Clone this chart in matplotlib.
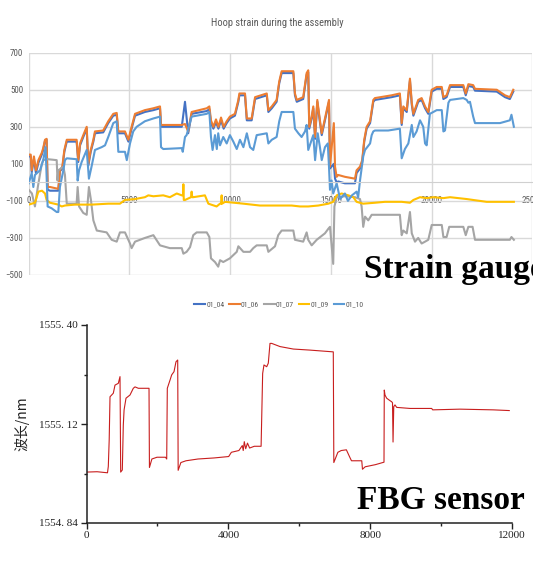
import matplotlib
matplotlib.use('Agg')
import matplotlib.pyplot as plt
from matplotlib import font_manager

# ---------------- strain gauges (top chart) ----------------
# 01_04 and 01_06 are read at the same time stamps
x06 = [0, 100, 150, 260, 360, 480, 650, 720, 810, 890,
       940, 1060, 1470, 1550, 1670, 1770, 1890, 2380, 2460, 2550,
       2710, 2880, 2960, 3080, 3210, 3290, 3700, 3950, 4200, 4370,
       4450, 4780, 4950, 5110, 5280, 5770, 6190, 6520, 6570, 7600,
       7760, 7920, 8090, 8840, 8970, 9050, 9170, 9300, 9420, 9550,
       9680, 9830, 9990, 10240, 10410, 10460, 10740, 10830, 11070, 11240,
       11820, 11900, 12070, 12310, 12440, 12560, 13140, 13220, 13310, 13630,
       13800, 13880, 13930, 14050, 14130, 14220, 14330, 14460, 14550, 14800,
       14910, 14960, 15150, 15210, 15290, 15370, 15700, 16200, 16280, 16450,
       16560, 16660, 16780, 16950, 17110, 17190, 18020, 18430, 18520, 18600,
       18770, 18930, 19020, 19100, 19340, 19510, 19680, 19840, 20010, 20260,
       20510, 20590, 20750, 20920, 21580, 21700, 21830, 22070, 22160, 23240,
       23650, 23890, 24060]
y06 = [150, 150, 65, 140, 65, 120, 160, 185, 230, 235,
       -25, -25, -35, 65, 85, 175, 230, 230, 120, 210,
       255, 300, 100, 175, 230, 275, 280, 330, 370, 375,
       275, 275, 230, 300, 370, 390, 400, 410, 310, 310,
       315, 275, 380, 400, 410, 335, 300, 340, 300, 350,
       300, 330, 355, 370, 445, 480, 480, 345, 345, 460,
       480, 390, 410, 445, 545, 600, 600, 480, 445, 460,
       590, 605, 300, 355, 410, 245, 445, 335, 265, 390,
       445, 85, 320, 85, 30, 40, 30, 20, 65, 85,
       120, 230, 300, 330, 445, 455, 470, 480, 320, 410,
       390, 560, 430, 370, 445, 455, 410, 380, 500, 515,
       515, 460, 470, 525, 525, 480, 530, 525, 505, 500,
       470, 460, 500]
y04 = [140, 140, 55, 125, 50, 105, 150, 175, 225, 230,
       -40, -45, -45, 60, 75, 165, 220, 220, 110, 200,
       245, 290, 90, 165, 220, 265, 270, 320, 360, 365,
       265, 265, 220, 290, 360, 380, 390, 400, 300, 300,
       435, 265, 370, 385, 395, 320, 290, 325, 290, 335,
       290, 320, 345, 360, 435, 470, 470, 335, 335, 450,
       470, 380, 400, 435, 535, 590, 590, 470, 435, 450,
       580, 595, 290, 345, 400, 235, 435, 325, 255, 380,
       435, 75, 100, 20, 0, 5, -5, -5, 50, 75,
       110, 220, 290, 320, 435, 445, 460, 470, 310, 400,
       380, 550, 420, 360, 435, 445, 400, 370, 490, 505,
       505, 450, 460, 515, 515, 470, 520, 515, 495, 490,
       460, 450, 490]

x07 = [0, 160, 310, 460, 650, 720, 960, 1390, 1430, 1470,
       1720, 1800, 1890, 2380, 2430, 2500, 2710, 2880, 2990, 3090,
       3210, 3380, 3870, 4120, 4370, 4530, 4780, 5030, 5110, 5280,
       5770, 6190, 6520, 7010, 7600, 7680, 7840, 8010, 8170, 8340,
       8840, 8970, 9050, 9250, 9410, 9500, 9660, 9990, 10330, 10410,
       10660, 10990, 11150, 11320, 11820, 11900, 12230, 12390, 12560, 13140,
       13220, 13630, 13800, 13880, 14050, 14300, 14710, 14880, 14960, 15120,
       15180, 15290, 15700, 16200, 16450, 16530, 16610, 16700, 16860, 17030,
       17850, 18430, 18520, 18600, 18770, 18930, 19020, 19180, 19340, 19510,
       19680, 19840, 20010, 20510, 20590, 20750, 20880, 21580, 21700, 21830,
       22040, 22160, 23890, 23970, 24090]
y07 = [-40, -60, -130, -20, 100, 120, 125, 120, 10, 65,
       85, 40, -115, -115, -25, -130, -165, -175, -25, -95,
       -205, -260, -270, -310, -320, -270, -270, -330, -355, -320,
       -300, -285, -340, -355, -355, -385, -375, -350, -285, -270,
       -270, -295, -410, -430, -455, -420, -430, -410, -375, -345,
       -375, -375, -355, -340, -340, -375, -345, -285, -260, -260,
       -310, -320, -270, -310, -340, -310, -275, -250, -240, -440,
       -130, -80, -75, -80, -90, -130, -240, -185, -205, -175,
       -175, -175, -285, -260, -275, -160, -275, -320, -300, -330,
       -320, -310, -230, -230, -295, -295, -240, -240, -285, -240,
       -240, -310, -310, -295, -310]

x09 = [0, 150, 310, 480, 660, 810, 890, 1060, 1470, 1640,
       1800, 2300, 3130, 3950, 4530, 4780, 5280, 5770, 5940, 6190,
       6680, 7010, 7350, 7600, 7660, 7680, 7700, 7760, 8060, 8090,
       8120, 8170, 8750, 8920, 9330, 9500, 9560, 9580, 9600, 9750,
       10660, 11480, 11980, 13060, 13470, 13880, 14380, 14880, 15120, 15290,
       15540, 15870, 16120, 16280, 16610, 17190, 17690, 18520, 18930, 19100,
       19430, 19760, 20090, 20590, 20920, 21750, 22070, 22740, 24090]
y09 = [-120, -115, -110, -50, -45, -60, -95, -110, -120, -130,
       -125, -120, -120, -115, -115, -95, -90, -80, -70, -75,
       -70, -80, -60, -70, -70, -10, -95, -95, -80, -50,
       -80, -80, -70, -115, -130, -115, -115, -70, -115, -105,
       -115, -125, -125, -125, -130, -130, -125, -115, -105, -70,
       -60, -70, -80, -105, -115, -110, -105, -105, -110, -95,
       -80, -85, -80, -85, -80, -90, -95, -105, -105]

x10 = [0, 150, 230, 310, 560, 720, 840, 940, 1140, 1390,
       1470, 1550, 1720, 1800, 1890, 2380, 2430, 2500, 2630, 2880,
       2990, 3130, 3290, 3620, 3790, 3950, 4200, 4370, 4450, 4780,
       4870, 5030, 5190, 5360, 5770, 6190, 6520, 6570, 6680, 7600,
       7650, 7760, 7840, 8090, 8840, 8970, 9050, 9130, 9250, 9340,
       9410, 9500, 9660, 9830, 9990, 10160, 10330, 10490, 10660, 10830,
       10990, 11150, 11320, 11820, 11900, 12070, 12310, 12440, 12560, 13140,
       13220, 13390, 13550, 13720, 13800, 13880, 14050, 14130, 14220, 14350,
       14460, 14550, 14710, 14850, 14910, 14960, 15040, 15120, 15290, 15460,
       15700, 15850, 16050, 16280, 16360, 16450, 16610, 16700, 16950, 17030,
       17110, 17190, 17850, 18430, 18520, 18680, 18850, 19020, 19100, 19260,
       19430, 19590, 19680, 19760, 19920, 20260, 20510, 20590, 20670, 20840,
       20920, 21580, 21750, 21830, 21910, 22070, 22160, 23400, 23890, 23970,
       24090]
y10 = [-5, 50, -25, 40, 65, 120, 190, -130, -140, -160,
       -160, -25, 65, 120, 130, 125, 10, 65, 110, 175,
       20, 90, 175, 190, 200, 245, 320, 330, 165, 165,
       120, 210, 275, 300, 330, 345, 355, 190, 180, 185,
       165, 245, 255, 355, 370, 380, 245, 175, 255, 180,
       265, 200, 245, 210, 255, 220, 180, 230, 190, 265,
       190, 175, 255, 265, 210, 230, 245, 330, 380, 380,
       290, 265, 245, 275, 310, 175, 230, 255, 120, 265,
       190, 120, 190, 210, 85, -40, 10, -60, -5, -90,
       -60, -100, -70, -50, -80, 10, 140, 175, 210, 255,
       275, 280, 280, 290, 130, 180, 210, 310, 245, 275,
       335, 300, 210, 200, 370, 390, 390, 275, 280, 430,
       445, 455, 445, 430, 435, 355, 320, 320, 335, 365,
       300]

gauge_names = ['01_04', '01_06', '01_07', '01_09', '01_10']
gauge_colors = ['#4472C4', '#ED7D31', '#A5A5A5', '#FFC000', '#5B9BD5']
strain_xticks = [0, 5000, 10000, 15000, 20000, 25000]
strain_yticks = [-500, -300, -100, 100, 300, 500, 700]

# ---------------- FBG sensor (bottom chart) ----------------
fbg_t = [0, 300, 592, 615, 640, 663, 756, 804, 897, 945,
         964, 1010, 1038, 1060, 1114, 1227, 1320, 1368, 1462, 1763,
         1775, 1844, 1988, 2228, 2262, 2279, 2355, 2403, 2468, 2524,
         2572, 2585, 2662, 2806, 3144, 3600, 4010, 4086, 4298, 4394,
         4420, 4450, 4490, 4540, 4600, 4732, 4924, 4968, 5005, 5082,
         5127, 5175, 5222, 5457, 5832, 6303, 6960, 6975, 7089, 7185,
         7329, 7425, 7473, 7763, 7783, 7859, 8147, 8390, 8398, 8418,
         8465, 8559, 8606, 8630, 8645, 8665, 8700, 8748, 9123, 9735,
         9763, 10533, 11472, 11923]
fbg_wl = [1554.984, 1554.985, 1554.982, 1555.000, 1555.075, 1555.197, 1555.207, 1555.230, 1555.235, 1555.254,
          1554.984, 1554.990, 1555.117, 1555.160, 1555.193, 1555.202, 1555.221, 1555.225, 1555.221, 1555.221,
          1554.997, 1555.021, 1555.026, 1555.026, 1555.021, 1555.221, 1555.244, 1555.259, 1555.268, 1555.296,
          1555.301, 1554.989, 1555.011, 1555.016, 1555.021, 1555.024, 1555.028, 1555.040, 1555.045, 1555.059,
          1555.045, 1555.070, 1555.050, 1555.066, 1555.052, 1555.057, 1555.057, 1555.263, 1555.287, 1555.282,
          1555.292, 1555.348, 1555.348, 1555.339, 1555.332, 1555.329, 1555.324, 1555.011, 1555.040, 1555.045,
          1555.047, 1555.026, 1555.016, 1555.016, 1554.992, 1554.999, 1555.005, 1555.012, 1555.216, 1555.202,
          1555.193, 1555.186, 1555.183, 1555.180, 1555.069, 1555.169, 1555.174, 1555.167, 1555.164, 1555.164,
          1555.160, 1555.162, 1555.160, 1555.158]
fbg_xticks = [0, 4000, 8000, 12000]
fbg_xminor = [2000, 6000, 10000]
fbg_yticks = [1554.84, 1555.12, 1555.40]
fbg_ylabels = ['1554. 84', '1555. 12', '1555. 40']
fbg_yminor = [1554.98, 1555.26]

installed = {f.name for f in font_manager.fontManager.ttflist}
narrow = next((f for f in ['Liberation Sans Narrow', 'Roboto Condensed', 'Open Sans Condensed']
               if f in installed), 'Liberation Sans')

W, H = 533, 569
fig = plt.figure(figsize=(W / 100, H / 100), dpi=100)
grey_txt = '#595959'

# top chart
ax1 = fig.add_axes([28.7 / W, (H - 275) / H, 503.5 / W, 222.3 / H])
series = [(x06, y04), (x06, y06), (x07, y07), (x09, y09), (x10, y10)]
for (xs, ys), name, col in zip(series, gauge_names, gauge_colors):
    ax1.plot(xs, ys, color=col, lw=1.5, label=name)
ax1.set_xlim(0, 25000)
ax1.set_ylim(-500, 700)
ax1.set_xticks(strain_xticks)
ax1.set_yticks(strain_yticks)
ax1.grid(color='#D9D9D9', lw=1)
ax1.set_axisbelow(True)
for s in ['top', 'right', 'left']:
    ax1.spines[s].set_visible(False)
ax1.spines['bottom'].set_position(('data', 0))
ax1.spines['bottom'].set_color('#D0D0D0')
ax1.tick_params(length=0, labelsize=6.5, labelcolor=grey_txt)
ax1.tick_params(axis='x', pad=9.5)
ax1.tick_params(axis='y', pad=4)
for lab in ax1.get_xticklabels() + ax1.get_yticklabels():
    lab.set_family(narrow)

fig.text(277 / W, 1 - 23 / H, 'Hoop strain during the assembly', ha='center', va='center',
         fontsize=7.5, color=grey_txt, family=narrow)
fig.legend(*ax1.get_legend_handles_labels(), loc='center', bbox_to_anchor=(279 / W, 1 - 304 / H),
           ncol=5, frameon=False, prop={'family': narrow, 'size': 5.5}, labelcolor=grey_txt,
           handlelength=1.4, handletextpad=0.2, columnspacing=0.6)

# bottom chart
ax2 = fig.add_axes([86.5 / W, (H - 523) / H, 425.5 / W, 198 / H])
ax2.plot(fbg_t, fbg_wl, color='#C81E1E', lw=0.8)
ax2.set_xlim(0, 12000)
ax2.set_ylim(1554.84, 1555.40)
ax2.set_xticks(fbg_xticks)
ax2.set_xticks(fbg_xminor, minor=True)
ax2.set_yticks(fbg_yticks)
ax2.set_yticklabels(fbg_ylabels)
ax2.set_yticks(fbg_yminor, minor=True)
for s in ['top', 'right']:
    ax2.spines[s].set_visible(False)
for s in ['left', 'bottom']:
    ax2.spines[s].set_linewidth(1.1)
    ax2.spines[s].set_color('#222222')
ax2.tick_params(which='major', direction='out', length=4, width=1, labelsize=8, pad=2, colors='#222222')
ax2.tick_params(which='minor', direction='out', length=2, width=1, colors='#222222')
for lab in ax2.get_xticklabels() + ax2.get_yticklabels():
    lab.set_family('Liberation Serif')
fig.text(22 / W, 1 - 424 / H, '波长/nm', rotation=90, ha='center', va='center', fontsize=10,
         family=['Noto Sans CJK SC', 'DejaVu Sans'], color='#222222')

# overlay captions (the reference crops the last letter of "Strain gauge" at the edge)
fig.text(364 / W, 1 - 278 / H, 'Strain gauge', fontsize=24, fontweight='bold',
         family='Liberation Serif', va='baseline', ha='left')
fig.text(357 / W, 1 - 509 / H, 'FBG sensor', fontsize=24, fontweight='bold',
         family='Liberation Serif', va='baseline', ha='left')

fig.savefig('out.png', dpi=100, facecolor='white')
